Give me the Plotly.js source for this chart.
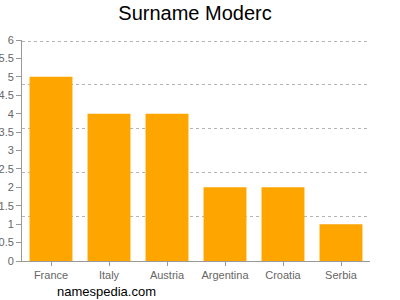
<!DOCTYPE html>
<html>
<head>
<meta charset="utf-8">
<script src="https://cdn.plot.ly/plotly-3.0.1.min.js"></script>
<style>html,body{margin:0;padding:0;background:#fff;}#chart{width:400px;height:300px;}</style>
</head>
<body>
<div id="chart"></div>
<script>
const countries = ["France", "Italy", "Austria", "Argentina", "Croatia", "Serbia"];
const counts = [5, 4, 4, 2, 2, 1];
const yTickStep = 0.5;
const gridStep = 1.2;
const yMax = 6;

const gridVals = [];
for (let i = 1; i * gridStep <= yMax + 1e-9; i++) {
  gridVals.push(Math.round(i * gridStep * 1000) / 1000);
}
const gridPad = 0.03;

const data = [
  {
    type: "bar",
    x: countries,
    y: counts,
    marker: {color: "#ffa500"},
    hoverinfo: "x+y",
    xaxis: "x",
    yaxis: "y"
  },
  {
    type: "scatter",
    mode: "none",
    x: countries,
    y: counts,
    hoverinfo: "skip",
    showlegend: false,
    xaxis: "x",
    yaxis: "y2"
  }
];

const layout = {
  width: 400,
  height: 300,
  margin: {l: 22, r: 30, t: 40, b: 39, pad: 0},
  paper_bgcolor: "#fff",
  plot_bgcolor: "#fff",
  showlegend: false,
  bargap: 0.26,
  font: {family: "Liberation Sans, Arial, sans-serif", color: "#666", size: 11},
  title: {
    text: "Surname Moderc",
    font: {family: "Liberation Sans, Arial, sans-serif", size: 20, color: "#000"},
    x: 0.4875, xref: "container", xanchor: "center",
    y: 0.957, yref: "container", yanchor: "middle"
  },
  xaxis: {
    type: "category",
    range: [-0.5, countries.length - 0.5],
    showline: true, linecolor: "#999", linewidth: 1,
    ticks: "outside", ticklen: 4, tickcolor: "#999",
    showgrid: false, zeroline: false,
    tickfont: {size: 11, color: "#666"},
    fixedrange: true
  },
  yaxis: {
    range: [0, yMax],
    tick0: 0, dtick: yTickStep,
    showline: true, linecolor: "#999", linewidth: 1,
    ticks: "outside", ticklen: 5, tickcolor: "#999",
    showgrid: false, zeroline: false,
    tickfont: {size: 11, color: "#666"},
    fixedrange: true
  },
  yaxis2: {
    overlaying: "y",
    range: [-gridPad, yMax + gridPad],
    tickmode: "array", tickvals: gridVals,
    showticklabels: false, ticks: "",
    showgrid: true, gridcolor: "#b4b4b4", gridwidth: 1, griddash: "3px,3px",
    showline: false, zeroline: false,
    fixedrange: true
  },
  annotations: [
    {
      text: "namespedia.com",
      xref: "paper", yref: "paper",
      x: 0.244, y: -0.14,
      xanchor: "center", yanchor: "middle",
      showarrow: false,
      font: {family: "Liberation Sans, Arial, sans-serif", size: 13, color: "#000"}
    }
  ]
};

Plotly.newPlot("chart", data, layout, {displayModeBar: false, staticPlot: true});
</script>
</body>
</html>
